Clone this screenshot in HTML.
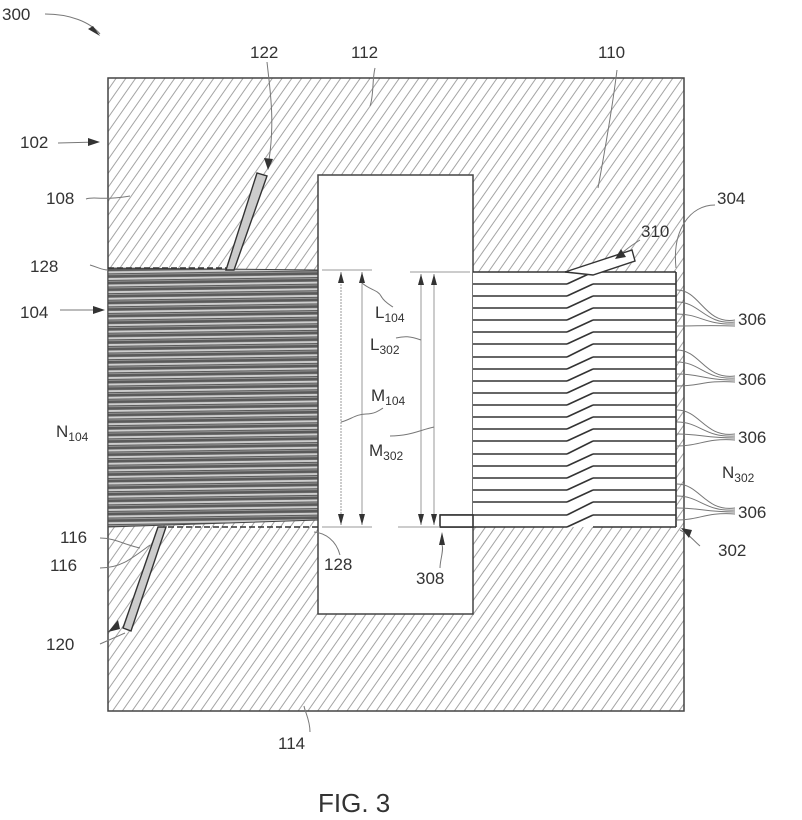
<!DOCTYPE html>
<html><head><style>body{margin:0;background:#fff}svg{display:block}text{font-family:"Liberation Sans",sans-serif;fill:#333}</style></head>
<body>
<svg width="802" height="820" viewBox="0 0 802 820" xmlns="http://www.w3.org/2000/svg">
<defs>
<pattern id="h" patternUnits="userSpaceOnUse" width="8" height="8" patternTransform="rotate(-55)">
<line x1="0" y1="4" x2="8" y2="4" stroke="#9a9a9a" stroke-width="0.9"/>
</pattern>
<pattern id="ply" patternUnits="userSpaceOnUse" width="20" height="6.6" patternTransform="rotate(-0.8)">
<rect width="20" height="6.6" fill="#5a5a5a"/>
<rect y="2.2" width="20" height="2" fill="#cfcfcf"/>
<rect y="5.2" width="20" height="0.8" fill="#a0a0a0"/>
</pattern>
</defs>
<rect x="108" y="78" width="576" height="633" fill="url(#h)" stroke="#444" stroke-width="1.5"/>
<polygon points="108,268 318,270 318,520 108,527" fill="url(#ply)" stroke="#444" stroke-width="1"/>
<rect x="318" y="175" width="155" height="439" fill="#fff" stroke="#444" stroke-width="1.5"/>
<rect x="473" y="272" width="203" height="255" fill="#fff"/>
<g stroke="#333" stroke-width="1.6" fill="none">
<line x1="473" y1="272" x2="676" y2="272"/>
<line x1="473" y1="284" x2="567" y2="284"/><line x1="567" y1="284" x2="593" y2="272"/><line x1="593" y1="284" x2="676" y2="284"/>
<line x1="473" y1="296" x2="567" y2="296"/><line x1="567" y1="296" x2="593" y2="284"/><line x1="593" y1="296" x2="676" y2="296"/>
<line x1="473" y1="308" x2="567" y2="308"/><line x1="567" y1="308" x2="593" y2="296"/><line x1="593" y1="308" x2="676" y2="308"/>
<line x1="473" y1="320" x2="567" y2="320"/><line x1="567" y1="320" x2="593" y2="308"/><line x1="593" y1="320" x2="676" y2="320"/>
<line x1="473" y1="332" x2="567" y2="332"/><line x1="567" y1="332" x2="593" y2="320"/><line x1="593" y1="332" x2="676" y2="332"/>
<line x1="473" y1="344" x2="567" y2="344"/><line x1="567" y1="344" x2="593" y2="332"/><line x1="593" y1="344" x2="676" y2="344"/>
<line x1="473" y1="357" x2="567" y2="357"/><line x1="567" y1="357" x2="593" y2="344"/><line x1="593" y1="357" x2="676" y2="357"/>
<line x1="473" y1="369" x2="567" y2="369"/><line x1="567" y1="369" x2="593" y2="357"/><line x1="593" y1="369" x2="676" y2="369"/>
<line x1="473" y1="381" x2="567" y2="381"/><line x1="567" y1="381" x2="593" y2="369"/><line x1="593" y1="381" x2="676" y2="381"/>
<line x1="473" y1="393" x2="567" y2="393"/><line x1="567" y1="393" x2="593" y2="381"/><line x1="593" y1="393" x2="676" y2="393"/>
<line x1="473" y1="405" x2="567" y2="405"/><line x1="567" y1="405" x2="593" y2="393"/><line x1="593" y1="405" x2="676" y2="405"/>
<line x1="473" y1="417" x2="567" y2="417"/><line x1="567" y1="417" x2="593" y2="405"/><line x1="593" y1="417" x2="676" y2="417"/>
<line x1="473" y1="429" x2="567" y2="429"/><line x1="567" y1="429" x2="593" y2="417"/><line x1="593" y1="429" x2="676" y2="429"/>
<line x1="473" y1="441" x2="567" y2="441"/><line x1="567" y1="441" x2="593" y2="429"/><line x1="593" y1="441" x2="676" y2="441"/>
<line x1="473" y1="454" x2="567" y2="454"/><line x1="567" y1="454" x2="593" y2="441"/><line x1="593" y1="454" x2="676" y2="454"/>
<line x1="473" y1="466" x2="567" y2="466"/><line x1="567" y1="466" x2="593" y2="454"/><line x1="593" y1="466" x2="676" y2="466"/>
<line x1="473" y1="478" x2="567" y2="478"/><line x1="567" y1="478" x2="593" y2="466"/><line x1="593" y1="478" x2="676" y2="478"/>
<line x1="473" y1="490" x2="567" y2="490"/><line x1="567" y1="490" x2="593" y2="478"/><line x1="593" y1="490" x2="676" y2="490"/>
<line x1="473" y1="502" x2="567" y2="502"/><line x1="567" y1="502" x2="593" y2="490"/><line x1="593" y1="502" x2="676" y2="502"/>
<line x1="440" y1="515" x2="567" y2="515"/><line x1="567" y1="515" x2="593" y2="502"/><line x1="593" y1="515" x2="676" y2="515"/>
<line x1="440" y1="527" x2="567" y2="527"/><line x1="567" y1="527" x2="593" y2="515"/><line x1="593" y1="527" x2="676" y2="527"/>
<line x1="676" y1="272" x2="676" y2="527"/>
</g>
<rect x="440" y="515" width="33" height="12" fill="#fff" stroke="#333" stroke-width="1.6"/>
<polygon points="565,272 632,250 635,261 593,275" fill="#fff" stroke="#333" stroke-width="1.4"/>
<polygon points="226,270 257,173 267,176 234,270" fill="#ccc" stroke="#333" stroke-width="1.4"/>
<polygon points="158,527 123,628 131,631 166,527" fill="#ccc" stroke="#333" stroke-width="1.4"/>
<line x1="108" y1="268" x2="226" y2="268" stroke="#333" stroke-width="1.5" stroke-dasharray="6,3"/>
<line x1="168" y1="527" x2="318" y2="527" stroke="#333" stroke-width="1.5" stroke-dasharray="6,3"/>
<g stroke="#999" stroke-width="1" fill="none">
<line x1="322" y1="270" x2="372" y2="270"/><line x1="322" y1="527" x2="372" y2="527"/>
<line x1="410" y1="272" x2="470" y2="272"/><line x1="398" y1="527" x2="440" y2="527"/>
<line x1="341" y1="272" x2="341" y2="525" stroke-dasharray="2,1"/>
<line x1="362" y1="272" x2="362" y2="525"/>
<line x1="421" y1="274" x2="421" y2="525"/>
<line x1="434" y1="274" x2="434" y2="525"/>
</g>
<g fill="#333">
<polygon points="341,272 338,283 344,283"/><polygon points="341,525 338,514 344,514"/>
<polygon points="362,272 359,283 365,283"/><polygon points="362,525 359,514 365,514"/>
<polygon points="421,274 418,285 424,285"/><polygon points="421,525 418,514 424,514"/>
<polygon points="434,274 431,285 437,285"/><polygon points="434,525 431,514 437,514"/>
<polygon points="442,532 439,545 445,545"/>
</g>
<g stroke="#777" stroke-width="1" fill="none">
<path d="M45,14 C70,14 90,22 100,34"/><path d="M58,143 L98,142"/><path d="M86,199 C95,196 100,201 130,196"/>
<path d="M267,62 C270,90 275,120 269,160"/><path d="M375,68 C372,80 374,95 370,106"/>
<path d="M617,70 C612,110 605,150 598,188"/>
<path d="M715,205 C690,205 672,230 676,268"/>
<path d="M640,240 C632,245 625,250 620,255"/>
<path d="M90,265 C100,268 102,270 108,270"/><path d="M60,310 L98,310"/>
<path d="M362,283 C370,290 378,290 381,296 C384,302 390,305 393,307"/>
<path d="M421,340 C410,336 404,336 396,338"/>
<path d="M341,422 C350,420 356,414 366,414 C375,414 380,410 383,408"/>
<path d="M434,427 C420,430 410,436 390,436"/>
<path d="M100,538 C115,538 125,545 140,548"/><path d="M100,568 C120,568 130,560 150,545"/>
<path d="M100,644 L125,633"/><path d="M340,555 C336,540 325,533 314,532"/>
<path d="M440,568 C440,560 444,550 442,545"/>
<path d="M700,546 C693,540 690,535 680,530"/>
<path d="M310,732 C310,720 305,712 304,706"/>
<path d="M677,290 C700,290 705,325 735,320"/><path d="M677,302 C700,302 705,325 735,322"/><path d="M677,314 C700,314 705,325 735,324"/><path d="M677,326 C700,326 705,325 735,326"/>
<path d="M677,350 C700,350 705,380 735,376"/><path d="M677,362 C700,362 705,380 735,378"/><path d="M677,374 C700,374 705,380 735,380"/><path d="M677,386 C700,386 705,380 735,382"/>
<path d="M677,410 C700,410 705,438 735,434"/><path d="M677,422 C700,422 705,438 735,436"/><path d="M677,434 C700,434 705,438 735,438"/><path d="M677,446 C700,446 705,438 735,440"/>
<path d="M677,484 C700,484 705,512 735,508"/><path d="M677,496 C700,496 705,512 735,510"/><path d="M677,508 C700,508 705,512 735,512"/><path d="M677,520 C700,520 705,512 735,514"/>
</g>
<g fill="#333">
<polygon points="100,36 88,29 93,26"/><polygon points="100,142 88,138 88,146"/><polygon points="268,170 264,158 273,159"/>
<polygon points="105,310 93,306 93,314"/><polygon points="118,620 108,632 120,629"/>
<polygon points="615,259 621,249 626,257"/><polygon points="681,528 692,530 689,538"/>
</g>
<g font-size="17">
<text x="2" y="20">300</text><text x="250" y="58">122</text><text x="351" y="58">112</text><text x="598" y="58">110</text>
<text x="20" y="148">102</text><text x="46" y="204">108</text><text x="717" y="204">304</text>
<text x="641" y="237">310</text>
<text x="30" y="272">128</text><text x="20" y="318">104</text>
<text x="738" y="325">306</text><text x="738" y="385">306</text><text x="738" y="443">306</text><text x="738" y="518">306</text>
<text x="56" y="437">N<tspan font-size="12" dy="4">104</tspan></text>
<text x="722" y="478">N<tspan font-size="12" dy="4">302</tspan></text>
<text x="375" y="318">L<tspan font-size="12" dy="4">104</tspan></text>
<text x="370" y="350">L<tspan font-size="12" dy="4">302</tspan></text>
<text x="371" y="401">M<tspan font-size="12" dy="4">104</tspan></text>
<text x="369" y="456">M<tspan font-size="12" dy="4">302</tspan></text>
<text x="60" y="543">116</text><text x="50" y="571">116</text><text x="718" y="556">302</text>
<text x="324" y="570">128</text><text x="416" y="584">308</text><text x="46" y="650">120</text>
<text x="278" y="749">114</text>
</g>
<text x="318" y="812" font-size="26">FIG. 3</text>
</svg>
</body></html>
